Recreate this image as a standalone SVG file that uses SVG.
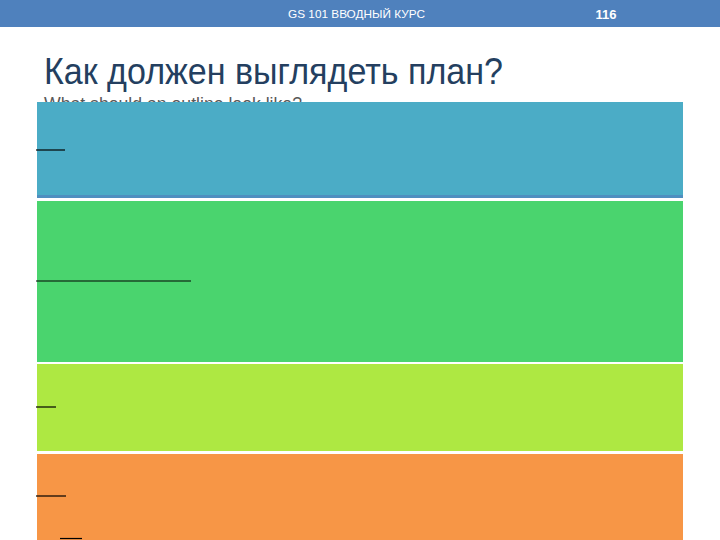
<svg xmlns="http://www.w3.org/2000/svg" width="720" height="540" viewBox="0 0 720 540">
<style>
.hdr{font-family:"Liberation Sans",Arial,sans-serif;fill:#ffffff}
.rule{stroke:#000000;stroke-width:1.2}
</style>
<rect x="0" y="0" width="720" height="540" fill="#ffffff"/>
<g id="header">
<rect x="0" y="0" width="720" height="27" fill="#4f81bd"/>
<text class="hdr" x="288" y="18" font-size="11" textLength="137" lengthAdjust="spacingAndGlyphs">GS 101 ВВОДНЫЙ КУРС</text>
<text class="hdr" x="606" y="19" font-size="13" font-weight="bold" text-anchor="middle">116</text>
</g>
<g id="title">
<text x="44" y="84" font-family="Liberation Sans,Arial,sans-serif" font-size="37" fill="#243f60" textLength="459" lengthAdjust="spacingAndGlyphs">Как должен выглядеть план?</text>
<text x="44" y="110" font-family="Liberation Sans,Arial,sans-serif" font-size="19" fill="#595959" textLength="258" lengthAdjust="spacingAndGlyphs">What should an outline look like?</text>
</g>
<g id="band-blue">
<rect x="37" y="102" width="646" height="96" fill="#4bacc6"/>
<rect x="37" y="195" width="646" height="3" fill="#4f8fc0"/>
</g>
<g id="band-green">
<rect x="37" y="201" width="646" height="161" fill="#4ad46e"/>
</g>
<g id="band-lime">
<rect x="37" y="364" width="646" height="87" fill="#aee842"/>
</g>
<g id="band-orange">
<rect x="37" y="454" width="646" height="86" fill="#f79646"/>
</g>
<g id="connectors">
<line class="rule" x1="36" y1="150" x2="65" y2="150"/>
<line class="rule" x1="36" y1="281" x2="191" y2="281"/>
<line class="rule" x1="36" y1="407" x2="56" y2="407"/>
<line class="rule" x1="36" y1="496" x2="66" y2="496"/>
<line class="rule" x1="60" y1="538.5" x2="82" y2="538.5"/>
</g>
</svg>
